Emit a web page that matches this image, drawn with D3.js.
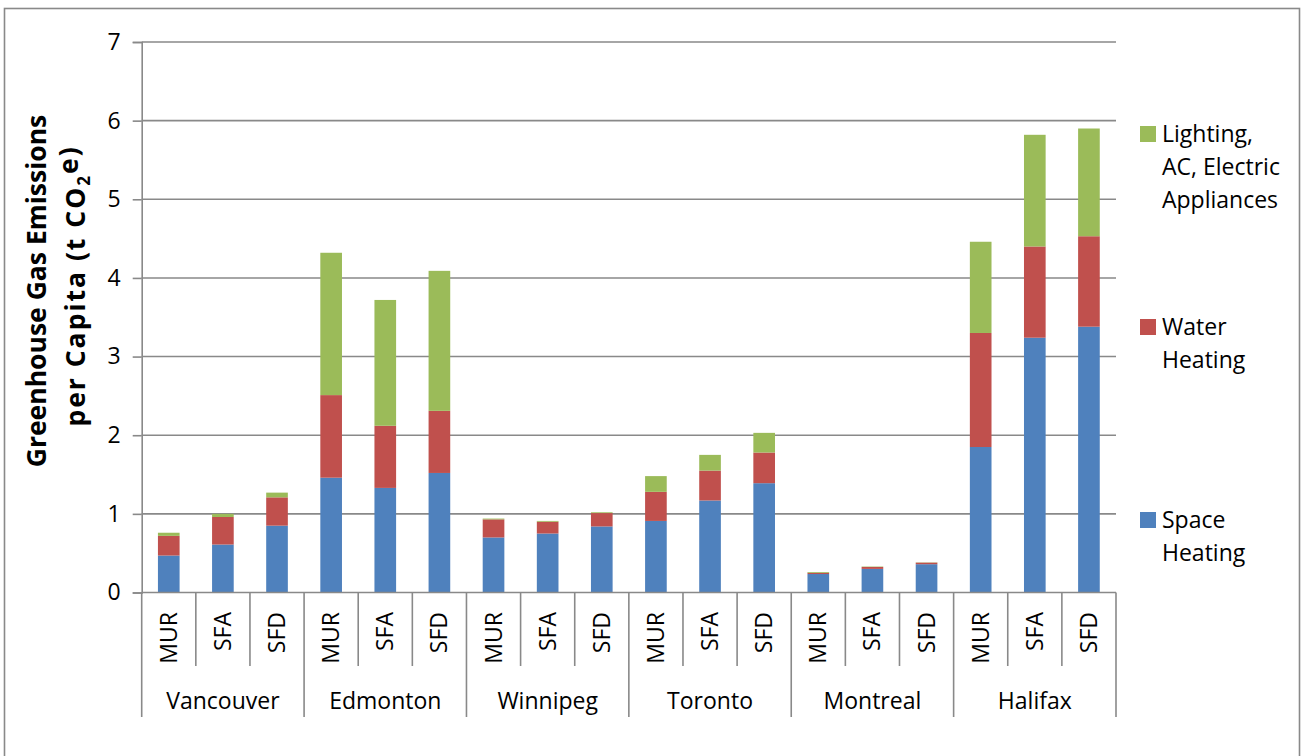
<!DOCTYPE html>
<html>
<head>
<meta charset="utf-8">
<script src="https://cdn.jsdelivr.net/npm/d3@7"></script>
<style>
  body { margin: 0; background: #fff; }
  svg { display: block; font-family: "Open Sans", sans-serif; }
</style>
</head>
<body>
<svg id="chart"></svg>
<script>
// data
let cities = ["Vancouver", "Edmonton", "Winnipeg", "Toronto", "Montreal", "Halifax"]
let types = ["MUR", "SFA", "SFD"]
let seriesNames = ["Space Heating", "Water Heating", "Lighting, AC, Electric Appliances"]
let spaceHeating = [0.47, 0.61, 0.85, 1.46, 1.33, 1.52, 0.70, 0.75, 0.84, 0.91, 1.17, 1.39, 0.235, 0.30, 0.36, 1.85, 3.24, 3.38]
let waterHeating = [0.25, 0.35, 0.36, 1.05, 0.79, 0.79, 0.23, 0.15, 0.17, 0.37, 0.38, 0.39, 0.015, 0.025, 0.02, 1.45, 1.16, 1.15]
let lighting = [0.04, 0.04, 0.06, 1.81, 1.60, 1.78, 0.01, 0.01, 0.01, 0.20, 0.20, 0.25, 0.01, 0.005, 0.003, 1.16, 1.42, 1.37]
let yTicks = [0, 1, 2, 3, 4, 5, 6, 7]
let legendLines = [["Lighting,", "AC, Electric", "Appliances"], ["Water", "Heating"], ["Space", "Heating"]]

let width = 1302
let height = 756
let plotLeft = 141.7
let plotRight = 1116
let plotTop = 42
let plotBottom = 592.5
let colors = ["#4F81BD", "#C0504D", "#9BBB59"]
let gridColor = "#898989"
let fontSize = 23

let svg = d3.select("#chart").attr("width", width).attr("height", height)

// outer chart frame
svg.append("rect")
    .attr("x", 4.5).attr("y", 8.5)
    .attr("width", 1295).attr("height", 770)
    .attr("fill", "none").attr("stroke", gridColor).attr("stroke-width", 1.6)

// one row per bar
let rows = []
cities.forEach((c, ci) => {
    types.forEach((t, ti) => {
        let i = ci * 3 + ti
        rows.push({ key: c + "|" + t, city: c, type: t, s0: spaceHeating[i], s1: waterHeating[i], s2: lighting[i] })
    })
})

let xScale = d3.scaleBand()
    .domain(rows.map(d => d.key))
    .range([plotLeft, plotRight])
    .paddingInner(0.6)
    .paddingOuter(0.3)

let yScale = d3.scaleLinear()
    .domain([0, 7])
    .range([plotBottom, plotTop])

// gridlines
svg.append("g")
    .selectAll("line")
    .data(yTicks.slice(1))
    .enter()
    .append("line")
    .attr("x1", plotLeft).attr("x2", plotRight)
    .attr("y1", d => yScale(d)).attr("y2", d => yScale(d))
    .attr("stroke", gridColor).attr("stroke-width", 1.6)

// y axis
let yAxis = d3.axisLeft(yScale)
    .tickValues(yTicks)
    .tickFormat(d3.format("d"))
    .tickSize(9)
    .tickPadding(12)
let yg = svg.append("g")
    .attr("transform", "translate(" + plotLeft + ",0)")
    .call(yAxis)
yg.select(".domain").attr("stroke", gridColor).attr("stroke-width", 1.6)
yg.selectAll(".tick line").attr("stroke", gridColor).attr("stroke-width", 1.6)
yg.selectAll(".tick text")
    .attr("fill", "#000")
    .style("font-family", "Open Sans")
    .style("font-size", fontSize + "px")

// stacked bars
let stack = d3.stack().keys(["s0", "s1", "s2"])
let layers = stack(rows)

svg.append("g")
    .selectAll("g")
    .data(layers)
    .enter()
    .append("g")
    .attr("fill", (d, i) => colors[i])
    .selectAll("rect")
    .data(d => d)
    .enter()
    .append("rect")
    .attr("x", d => xScale(d.data.key))
    .attr("width", xScale.bandwidth())
    .attr("y", d => yScale(d[1]))
    .attr("height", d => yScale(d[0]) - yScale(d[1]))

// x axis line
svg.append("line")
    .attr("x1", plotLeft).attr("x2", plotRight)
    .attr("y1", plotBottom).attr("y2", plotBottom)
    .attr("stroke", gridColor).attr("stroke-width", 1.6)

// category dividers (short inside a city, long between cities)
let step = xScale.step()
let dividers = d3.range(rows.length + 1)
svg.append("g")
    .selectAll("line")
    .data(dividers)
    .enter()
    .append("line")
    .attr("x1", i => plotLeft + i * step)
    .attr("x2", i => plotLeft + i * step)
    .attr("y1", plotBottom)
    .attr("y2", i => (i % 3 == 0) ? 717 : 666)
    .attr("stroke", gridColor).attr("stroke-width", 1.6)

// type labels, rotated
svg.append("g")
    .selectAll("text")
    .data(rows)
    .enter()
    .append("text")
    .attr("transform", d => "translate(" + (xScale(d.key) + xScale.bandwidth() / 2) + ",612) rotate(-90)")
    .attr("text-anchor", "end")
    .attr("dy", "0.35em")
    .style("font-size", fontSize + "px")
    .text(d => d.type)

// city labels
svg.append("g")
    .selectAll("text")
    .data(cities)
    .enter()
    .append("text")
    .attr("x", (d, i) => plotLeft + (i * 3 + 1.5) * step)
    .attr("y", 709)
    .attr("text-anchor", "middle")
    .style("font-size", fontSize + "px")
    .text(d => d)

// y axis title
let title = svg.append("g").style("font-weight", "bold").style("font-size", "26.5px")
title.append("text")
    .attr("transform", "translate(46,291) rotate(-90)")
    .attr("text-anchor", "middle")
    .text("Greenhouse Gas Emissions")
let t2 = title.append("text")
    .attr("transform", "translate(85,286) rotate(-90)")
    .attr("text-anchor", "middle")
    .style("letter-spacing", "2px")
t2.append("tspan").text("per Capita (t CO")
t2.append("tspan").text("2").attr("dy", "0.3em").style("font-size", "17px")
t2.append("tspan").text("e)").attr("dy", "-0.45em")

// legend, top entry is the last series
let legendY = [134, 327, 520]
let legend = svg.append("g")
let entries = legend.selectAll("g")
    .data([2, 1, 0])
    .enter()
    .append("g")
    .attr("transform", (d, i) => "translate(1140," + legendY[i] + ")")
entries.append("rect")
    .attr("x", 0).attr("y", -8)
    .attr("width", 16).attr("height", 16)
    .attr("fill", d => colors[d])
entries.append("text")
    .style("font-size", fontSize + "px")
    .selectAll("tspan")
    .data((d, i) => legendLines[i])
    .enter()
    .append("tspan")
    .attr("x", 22)
    .attr("y", (d, j) => j * 33)
    .attr("dy", "0.35em")
    .text(d => d)
</script>
</body>
</html>
